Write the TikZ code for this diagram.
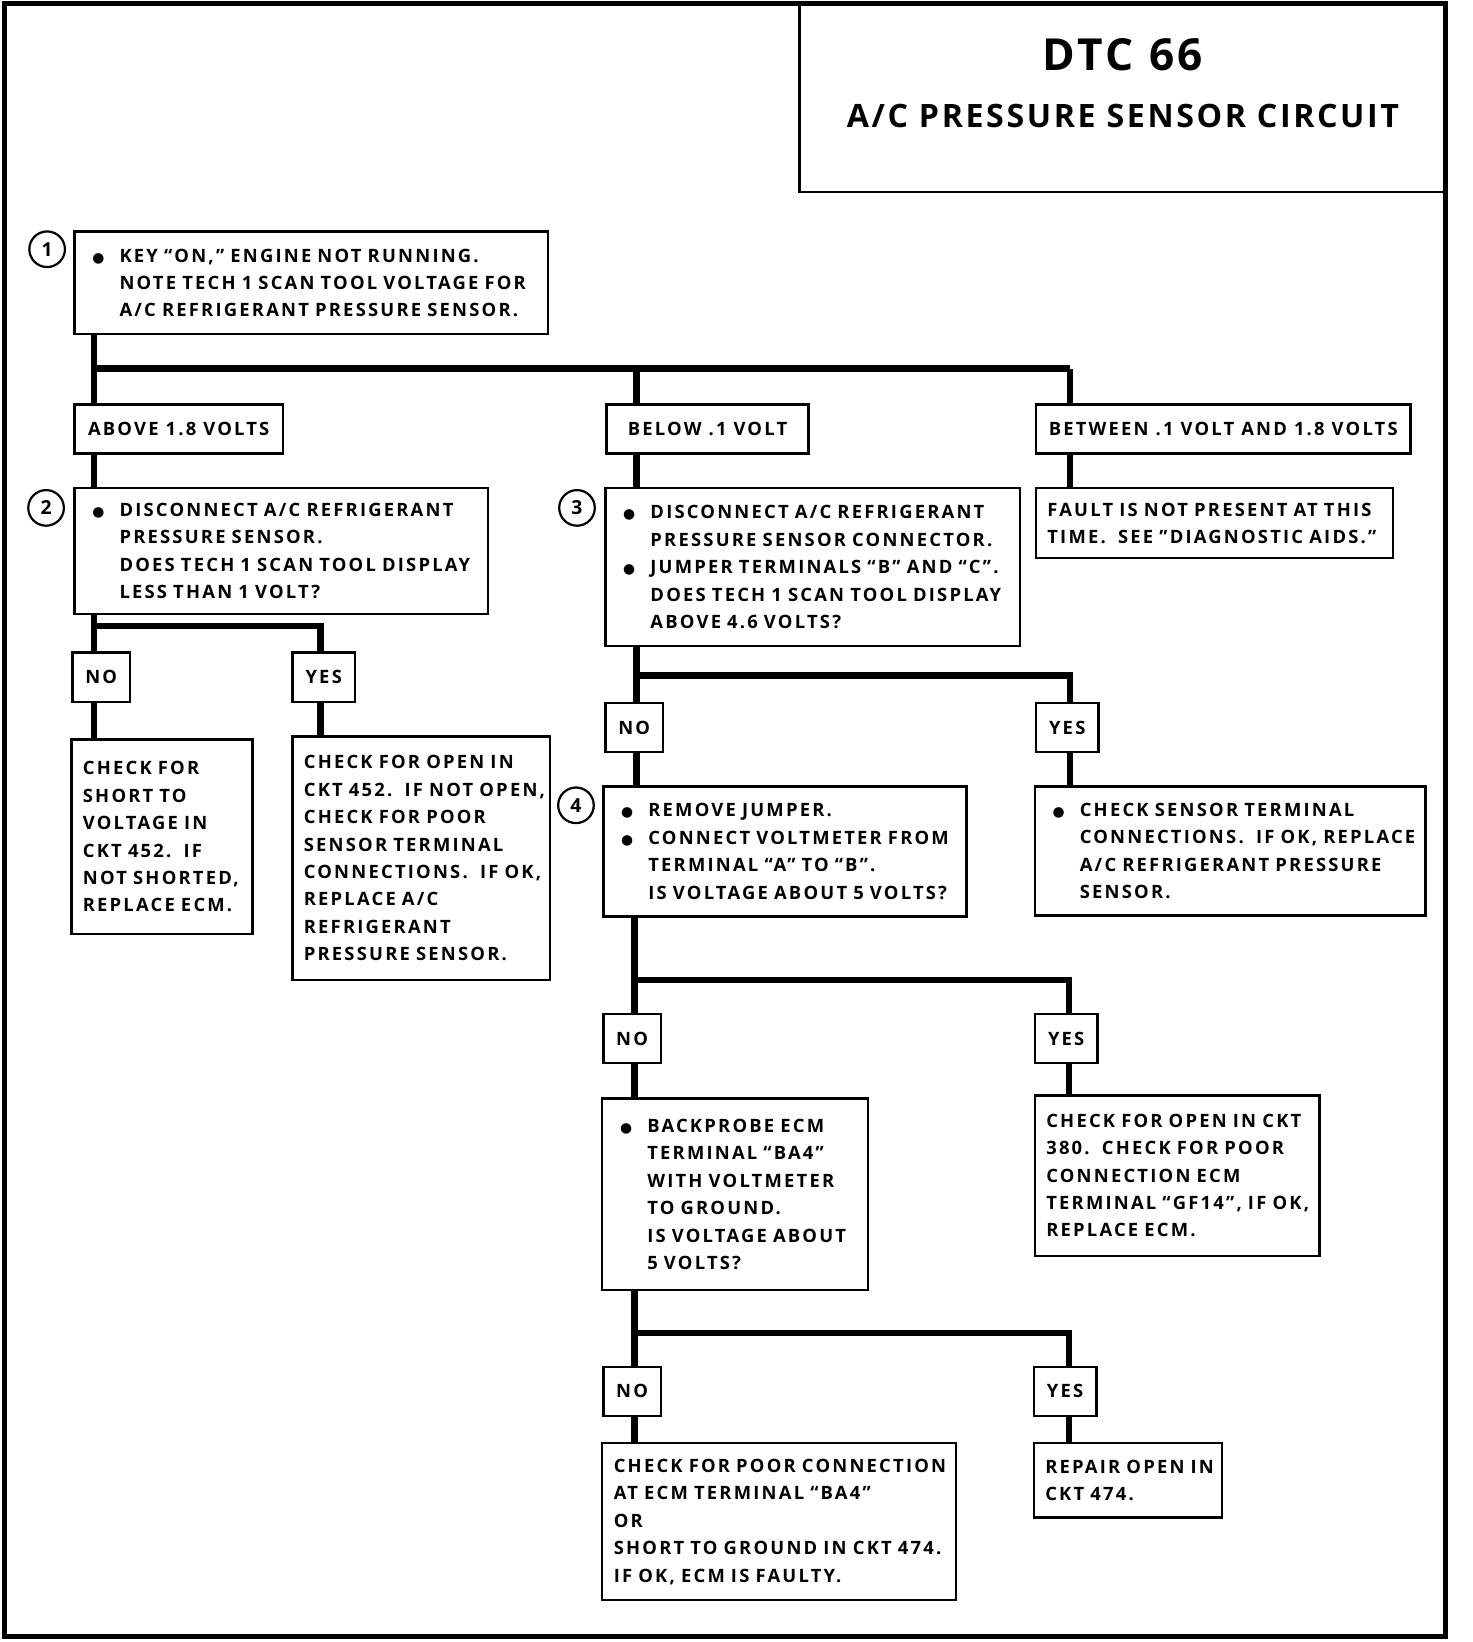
\documentclass[tikz,border=0pt]{standalone}
\usepackage{fontspec}
\newfontfamily\chartfont{Open Sans}[LetterSpace=12]
\newfontfamily\titlefont{Open Sans}[LetterSpace=8]
\newfontfamily\dotfont{DejaVu Sans}
\usetikzlibrary{positioning,calc}

\tikzset{
  box/.style={draw, line width=1.3pt, anchor=north west, inner sep=0pt, align=left,
    execute at begin node={\leftskip=0.22cm}},
  tag/.style={draw, line width=1.3pt, anchor=north west, inner sep=0pt, align=center, minimum height=0.94cm},
  wire/.style={line width=3.5pt},
  stepnum/.style={circle, draw, line width=1.2pt, minimum size=0.68cm, inner sep=0pt, font=\chartfont\bfseries\fontsize{10.5}{12}\selectfont},
}
\newcommand{\bul}{\makebox[0.64cm][l]{\hspace*{0.12cm}{\dotfont\fontsize{7.5}{7.5}\selectfont ●}}}
\newcommand{\ind}{\hspace*{0.64cm}}

\begin{document}
\begin{tikzpicture}[x=0.02cm, y=-0.02cm, font=\chartfont\bfseries\fontsize{10}{14.9}\selectfont]
  \useasboundingbox (0,0) rectangle (1406,1568);
  \draw[line width=2.6pt] (4,3) rectangle (1380,1563);

  % title
  \node[draw, line width=1.6pt, anchor=north west, minimum width=12.36cm, minimum height=3.58cm] (title) at (762,3) {};
  \node[font=\titlefont\bfseries\fontsize{24}{28}\selectfont] (dtc) at ([yshift=-0.98cm]title.north) {DTC 66};
  \node[font=\titlefont\bfseries\fontsize{17.5}{20}\selectfont] (circuit) at ([yshift=-2.16cm]title.north) {A/C PRESSURE SENSOR CIRCUIT};

  % steps
  \node[box, text width=9.04cm, minimum height=1.96cm] (q1) at (70,220)
    {\bul KEY “ON,” ENGINE NOT RUNNING.\\ \ind NOTE TECH 1 SCAN TOOL VOLTAGE FOR\\ \ind A/C REFRIGERANT PRESSURE SENSOR.};
  \node[box, text width=7.90cm, minimum height=2.40cm] (q2) at (70,465)
    {\bul DISCONNECT A/C REFRIGERANT\\ \ind PRESSURE SENSOR.\\ \ind DOES TECH 1 SCAN TOOL DISPLAY\\ \ind LESS THAN 1 VOLT?};
  \node[box, text width=7.92cm, minimum height=3.02cm] (q3) at (577,465)
    {\bul DISCONNECT A/C REFRIGERANT\\ \ind PRESSURE SENSOR CONNECTOR.\\ \bul JUMPER TERMINALS “B” AND “C”.\\ \ind DOES TECH 1 SCAN TOOL DISPLAY\\ \ind ABOVE 4.6 VOLTS?};
  \node[box, text width=6.94cm, minimum height=2.48cm] (q4) at (575,750)
    {\bul REMOVE JUMPER.\\ \bul CONNECT VOLTMETER FROM\\ \ind TERMINAL “A” TO “B”.\\ \ind IS VOLTAGE ABOUT 5 VOLTS?};
  \node[box, text width=5.08cm, minimum height=3.66cm] (q5) at (574,1048)
    {\bul BACKPROBE ECM\\ \ind TERMINAL “BA4”\\ \ind WITH VOLTMETER\\ \ind TO GROUND.\\ \ind IS VOLTAGE ABOUT\\ \ind 5 VOLTS?};

  \foreach \n/\x/\y in {1/45/238, 2/44/485, 3/551/485, 4/550/769}
    \node[stepnum] (num-\n) at (\x,\y) {\n};

  % results
  \node[box, text width=6.82cm, minimum height=1.34cm] (fault) at (988,465)
    {FAULT IS NOT PRESENT AT THIS\\ TIME.\ \ SEE ”DIAGNOSTIC AIDS.”};
  \node[box, text width=3.46cm, minimum height=3.72cm] (short) at (67,705)
    {CHECK FOR\\ SHORT TO\\ VOLTAGE IN\\ CKT 452.\ \ IF\\ NOT SHORTED,\\ REPLACE ECM.};
  \node[box, text width=4.92cm, minimum height=4.66cm] (open452) at (278,702)
    {CHECK FOR OPEN IN\\ CKT 452.\ \ IF NOT OPEN,\\ CHECK FOR POOR\\ SENSOR TERMINAL\\ CONNECTIONS.\ \ IF OK,\\ REPLACE A/C\\ REFRIGERANT\\ PRESSURE SENSOR.};
  \node[box, text width=7.46cm, minimum height=2.46cm] (sensor) at (987,750)
    {\bul CHECK SENSOR TERMINAL\\ \ind CONNECTIONS.\ \ IF OK, REPLACE\\ \ind A/C REFRIGERANT PRESSURE\\ \ind SENSOR.};
  \node[box, text width=5.44cm, minimum height=3.06cm] (open380) at (987,1045)
    {CHECK FOR OPEN IN CKT\\ 380.\ \ CHECK FOR POOR\\ CONNECTION ECM\\ TERMINAL “GF14”, IF OK,\\ REPLACE ECM.};
  \node[box, text width=6.76cm, minimum height=3.00cm] (poor) at (574,1377)
    {CHECK FOR POOR CONNECTION\\ AT ECM TERMINAL “BA4”\\ OR\\ SHORT TO GROUND IN CKT 474.\\ IF OK, ECM IS FAULTY.};
  \node[box, text width=3.60cm, minimum height=1.42cm] (repair) at (986,1377)
    {REPAIR OPEN IN\\ CKT 474.};

  % readings and answers
  \node[tag, minimum width=3.98cm] (above) at (70,385) {ABOVE 1.8 VOLTS};
  \node[tag, minimum width=3.86cm] (below) at (578,385) {BELOW .1 VOLT};
  \node[tag, minimum width=7.16cm] (between) at (988,385) {BETWEEN .1 VOLT AND 1.8 VOLTS};
  \foreach \k/\nx/\ny/\yx/\yy in {2/68/622/278/622, 3/577/670/988/670, 4/575/967/987/967, 5/575/1304/986/1304}{
    \node[tag, minimum width=1.10cm] (no\k) at (\nx,\ny) {NO};
    \node[tag, minimum width=1.20cm] (yes\k) at (\yx,\yy) {YES};
  }

  % connecting lines
  \coordinate (s1) at (90,352);   \coordinate (m1) at (608,352);  \coordinate (t1) at (1022,352);
  \coordinate (s2) at (90,598);   \coordinate (t2) at (306,598);
  \coordinate (s3) at (608,645);  \coordinate (t3) at (1022,645);
  \coordinate (s4) at (606,936);  \coordinate (t4) at (1021,936);
  \coordinate (s5) at (606,1273); \coordinate (t5) at (1021,1273);

  \draw[wire] (q1.south -| s1) -- (above.north -| s1);
  \draw[wire] (s1) -- (t1);
  \draw[wire] (m1) -- (below.north -| m1);
  \draw[wire] (t1) -- (between.north -| t1);
  \draw[wire] (above.south -| s1) -- (q2.north -| s1);
  \draw[wire] (below.south -| m1) -- (q3.north -| m1);
  \draw[wire] (between.south -| t1) -- (fault.north -| t1);

  \foreach \k/\q/\a/\b in {2/q2/short/open452, 3/q3/q4/sensor, 4/q4/q5/open380, 5/q5/poor/repair}{
    \draw[wire] (\q.south -| s\k) -- (no\k.north -| s\k);
    \draw[wire] (s\k) -| (yes\k.north -| t\k);
    \draw[wire] (no\k.south -| s\k) -- (\a.north -| s\k);
    \draw[wire] (yes\k.south -| t\k) -- (\b.north -| t\k);
  }
\end{tikzpicture}
\end{document}
